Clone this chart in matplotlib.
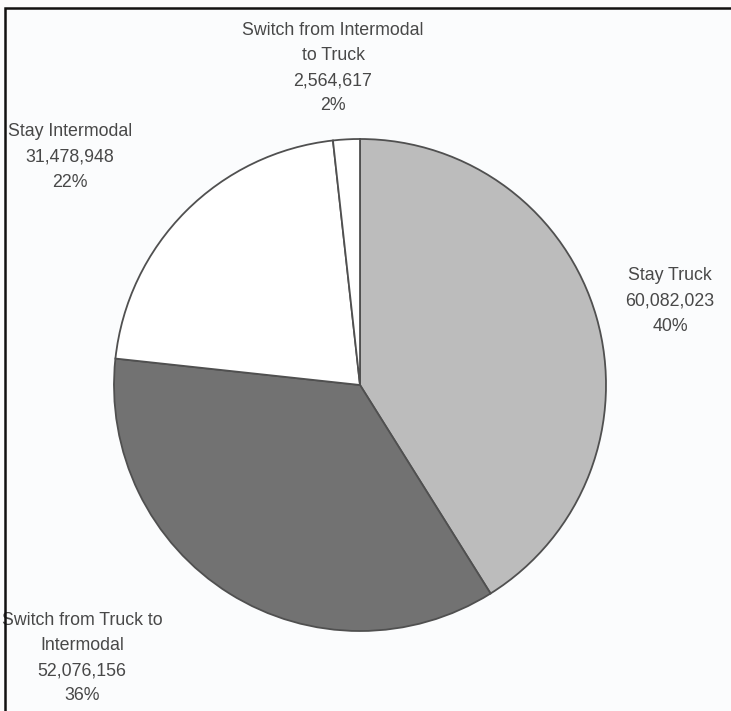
import matplotlib.pyplot as plt
from matplotlib.patches import Rectangle

# Freight tonnage by mode shift
categories = [
    "Stay Truck",
    "Switch from Truck to\nIntermodal",
    "Stay Intermodal",
    "Switch from Intermodal\nto Truck",
]
volumes = [60082023, 52076156, 31478948, 2564617]
percent_labels = ["40%", "36%", "22%", "2%"]

colors = ["#bcbcbc", "#727272", "#ffffff", "#ffffff"]
# label centres (pixels from top-left)
label_pos = [(670, 301), (82, 658), (70, 157), (333, 68)]

W, H = 731, 711
fig = plt.figure(figsize=(W / 100, H / 100), dpi=100, facecolor="#fbfcfd")
ax = fig.add_axes([0, 0, 1, 1])

ax.pie(
    volumes,
    colors=colors,
    startangle=90,
    counterclock=False,
    center=(360, H - 385),
    radius=246,
    frame=True,
    wedgeprops=dict(edgecolor="#505050", linewidth=1.3),
)
ax.set_xlim(0, W)
ax.set_ylim(0, H)
ax.set_aspect("equal")
ax.axis("off")

for name, vol, pct, (x, y) in zip(categories, volumes, percent_labels, label_pos):
    ax.text(
        x, H - y, f"{name}\n{vol:,}\n{pct}",
        ha="center", va="center", fontsize=12.8, color="#484848",
        family="Liberation Sans", linespacing=1.62,
    )

# outer frame (left and top edges visible)
fig.patches.append(Rectangle((5 / W, -0.1), 1.2, (H - 8) / H + 0.1,
                             transform=fig.transFigure, fill=False,
                             edgecolor="#111111", linewidth=1.8))

fig.savefig("out.png", dpi=100, facecolor=fig.get_facecolor())
